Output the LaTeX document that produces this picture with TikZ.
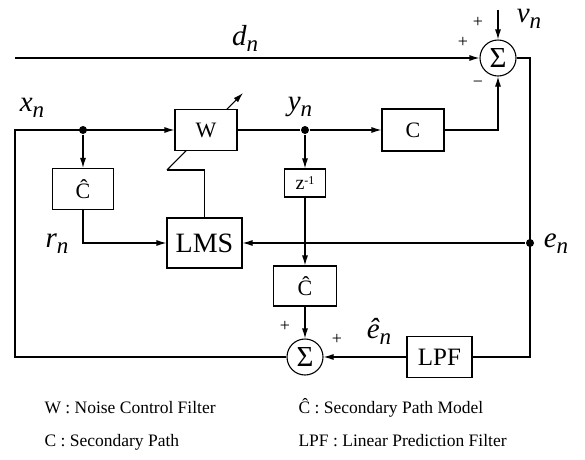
\documentclass[tikz,border=0pt]{standalone}
\usepackage{fontspec}
\setmainfont{Liberation Serif}
\usetikzlibrary{arrows.meta}
\newcommand\lbl[2]{{\fontsize{29}{29}\selectfont\itshape #1\raisebox{-6pt}{\fontsize{23}{23}\selectfont\itshape #2}}}
\begin{document}
\begin{tikzpicture}[x=1pt,y=-1pt,
  line width=1.1pt,
  >={Latex[length=10pt,width=6pt]},
  blk/.style={draw,fill=white,inner sep=0pt,font=\fontsize{22}{22}\selectfont},
  sumnode/.style={draw,circle,fill=white,minimum size=36pt,inner sep=0pt,font=\fontsize{29}{29}\selectfont},
  dot/.style={circle,fill=black,minimum size=8pt,inner sep=0pt},
  lab/.style={inner sep=0pt},
  sgn/.style={font=\fontsize{18}{18}\selectfont,inner sep=0pt},
  legend/.style={anchor=west,font=\fontsize{17.5}{17.5}\selectfont,inner sep=0pt}]
\useasboundingbox (0,0) rectangle (585,459);
% adaptation arrow (drawn first, hidden behind W)
\coordinate (adj0) at (167,170);
\coordinate (adjtip) at (243,93);
\draw[->] (adj0) -- (adjtip);
% nodes
\node[sumnode] (s1) at (498,58) {Σ};
\node[sumnode] (s2) at (305,357) {Σ};
\node[blk,minimum width=62pt,minimum height=41pt] (W) at (206,130) {W};
\node[blk,minimum width=62pt,minimum height=42pt] (C) at (413,130) {C};
\node[blk,minimum width=41pt,minimum height=28pt,font=\fontsize{20}{20}\selectfont] (z) at (305,183) {z\raisebox{5pt}{\fontsize{12}{12}\selectfont -1}};
\node[blk,minimum width=61pt,minimum height=41pt] (Ch1) at (83,189) {Ĉ};
\node[blk,minimum width=75pt,minimum height=50pt,font=\fontsize{28}{28}\selectfont] (LMS) at (204.5,243) {LMS};
\node[blk,minimum width=63pt,minimum height=40pt] (Ch2) at (305,286) {Ĉ};
\node[blk,minimum width=65pt,minimum height=41pt,font=\fontsize{25}{25}\selectfont] (LPF) at (439.5,357) {LPF};
\node[dot] (xn) at (83,130) {};
\node[dot] (yn) at (305,130) {};
\node[dot] (en) at (530,243) {};
\coordinate (dstart) at (15,58);
\coordinate (vtop) at (498,10);
\coordinate (rc) at (530,58);
\coordinate (lb) at (15,357);
\coordinate (lt) at (15,130);
\coordinate (adj1) at (LMS.north |- adj0);
% connectors
\draw[->] (dstart) -- (s1.west);
\draw[->] (vtop) -- (s1.north);
\draw[->] (C.east) -| (s1.south);
\draw (s1.east) -- (rc) |- (LPF.east);
\draw[->] (en) -- (LMS.east);
\draw[->] (LPF.west) -- (s2.east);
\draw[->] (s2.west) -- (lb) -- (lt) -- (W.west);
\draw[->] (xn) -- (Ch1.north);
\draw[->] (Ch1.south) |- (LMS.west);
\draw (W.east) -- (yn);
\draw[->] (yn) -- (C.west);
\draw[->] (yn) -- (z.north);
\draw[->] (z.south) -- (Ch2.north);
\draw[->] (Ch2.south) -- (s2.north);
\draw (LMS.north) -- (adj1) -- (adj0);
% labels
\node[lab] at (245,38) {\lbl{d}{n}};
\node[lab] at (529,19) {\lbl{v}{n}};
\node[lab] at (32,108) {\lbl{x}{n}};
\node[lab] at (300,107) {\lbl{y}{n}};
\node[lab] at (57,244) {\lbl{r}{n}};
\node[lab] at (556,244) {\lbl{e}{n}};
\node[lab] at (379,331) {\lbl{ê}{n}};
\node[sgn] at (478,22) {+};
\node[sgn] at (463,42) {+};
\node[sgn] at (478,84) {−};
\node[sgn] at (285,326) {+};
\node[sgn] at (337,339) {+};
% legend
\node[legend] (l1) at (44,408) {W : Noise Control Filter};
\node[legend] (l2) at (44,442) {C : Secondary Path};
\node[legend] (l3) at (298,408) {Ĉ : Secondary Path Model};
\node[legend] (l4) at (298,441) {LPF : Linear Prediction Filter};
\end{tikzpicture}
\end{document}
